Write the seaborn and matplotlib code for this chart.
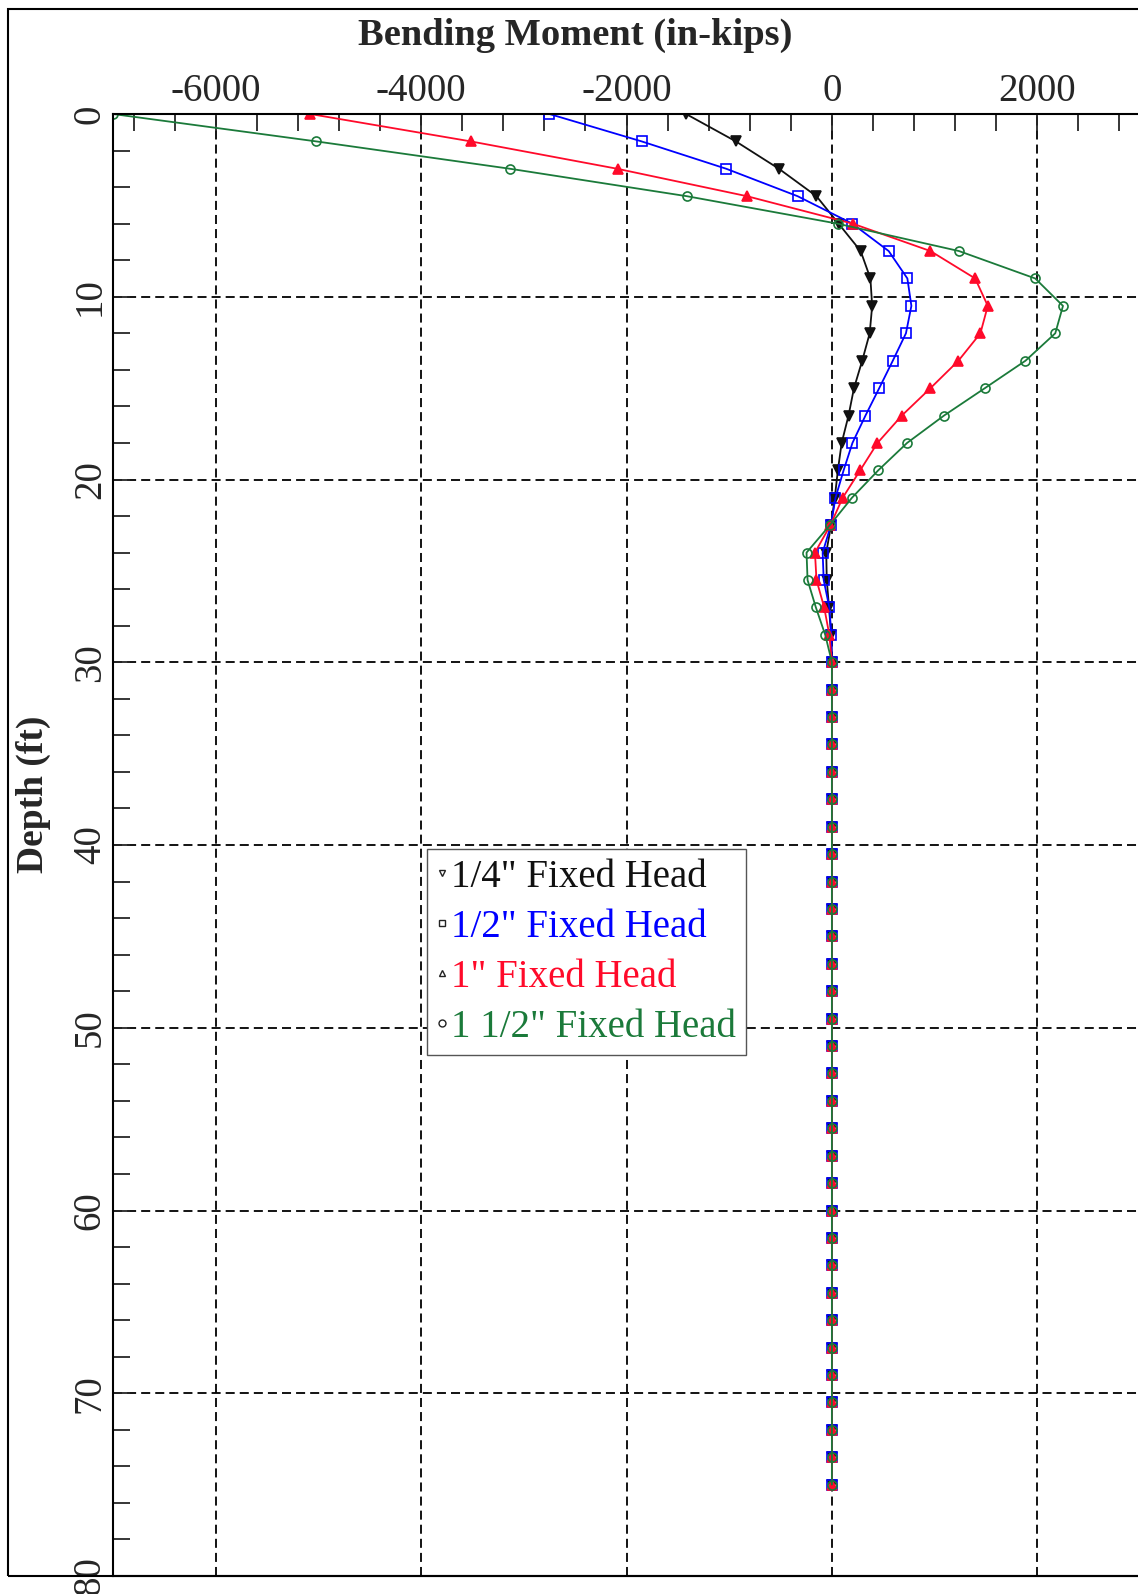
import matplotlib
matplotlib.use("Agg")
import matplotlib.pyplot as plt
import seaborn as sns
import pandas as pd
from matplotlib.lines import Line2D
from matplotlib.patches import Rectangle
from matplotlib.ticker import MultipleLocator

sns.set_style("white")
plt.rcParams['font.family'] = ['Liberation Serif', 'DejaVu Serif']
plt.rcParams['axes.unicode_minus'] = False

depth = [0, 1.5, 3, 4.5, 6, 7.5, 9, 10.5, 12, 13.5, 15, 16.5, 18, 19.5, 21,
         22.5, 24, 25.5, 27, 28.5, 30, 31.5, 33, 34.5, 36, 37.5, 39, 40.5,
         42, 43.5, 45, 46.5, 48, 49.5, 51, 52.5, 54, 55.5, 57, 58.5, 60,
         61.5, 63, 64.5, 66, 67.5, 69, 70.5, 72, 73.5, 75]

tail_zero = [0] * 30  # depths 31.5 .. 75 ft all read as zero moment

m_quarter = [-1420, -935, -515, -150, 65, 280, 375, 392, 368, 295, 215, 162,
             95, 58, 28, -8, -55, -50, -28, -8, 0] + tail_zero
m_half = [-2750, -1852, -1027, -333, 199, 553, 735, 774, 721, 593, 461, 327,
          200, 114, 35, -10, -90, -80, -25, -5, 0] + tail_zero
m_one = [-5080, -3515, -2087, -825, 203, 960, 1395, 1518, 1446, 1232, 960,
         681, 444, 275, 105, -15, -165, -150, -75, -25, 0] + tail_zero
m_one_half = [-7000, -5020, -3130, -1410, 55, 1238, 1980, 2250, 2175, 1885,
              1490, 1092, 732, 451, 195, -20, -247, -237, -156, -65, 0] + tail_zero

labels = ['1/4" Fixed Head', '1/2" Fixed Head', '1" Fixed Head', '1 1/2" Fixed Head']
colors = ['#111111', '#0000ff', '#ff0a2a', '#1b7a3a']
markers = ['v', 's', '^', 'o']
filled = [True, False, True, False]
series = [m_quarter, m_half, m_one, m_one_half]

W, H = 1138, 1594
fig = plt.figure(figsize=(W / 100, H / 100), dpi=100)
ax_left, ax_right, ax_top, ax_bot = 113, 1140, 114, 1576
ax = fig.add_axes([ax_left / W, (H - ax_bot) / H, (ax_right - ax_left) / W, (ax_bot - ax_top) / H])

for vals, lab, col, mk, fl in zip(series, labels, colors, markers, filled):
    df = pd.DataFrame({'moment': vals, 'depth': depth})
    sns.lineplot(data=df, x='moment', y='depth', sort=False, estimator=None,
                 ax=ax, color=col, linewidth=1.3, marker=mk, markersize=6.5,
                 markerfacecolor=(col if fl else 'none'), markeredgecolor=col,
                 markeredgewidth=1.2, legend=False)

ax.set_xlim(-7000, 3000)
ax.set_ylim(80, 0)
ax.xaxis.tick_top()
ax.xaxis.set_label_position('top')
ax.set_xticks([-6000, -4000, -2000, 0, 2000])
ax.set_yticks([0, 10, 20, 30, 40, 50, 60, 70, 80])
ax.xaxis.set_minor_locator(MultipleLocator(400))
ax.yaxis.set_minor_locator(MultipleLocator(2))
ax.tick_params(axis='x', which='both', direction='in', top=True, bottom=False,
               labeltop=True, labelbottom=False, length=12, width=1.3,
               labelsize=28, pad=3)
ax.tick_params(axis='y', which='both', direction='in', left=True, right=False,
               length=12, width=1.3, labelsize=28, pad=3)
for t in ax.get_yticklabels():
    t.set_rotation(90)
    t.set_va('center')

ax.grid(True, which='major', color='black', linestyle=(0, (5, 2.8)), linewidth=1.3)
for s in ['top', 'left', 'bottom', 'right']:
    ax.spines[s].set_color('black')
    ax.spines[s].set_linewidth(1.5)

ax.set_xlabel('Bending Moment (in-kips)', fontsize=27.7, fontweight='bold')
ax.xaxis.set_label_coords(0.45, 1.047)
ax.set_ylabel('Depth (ft)', fontsize=27, fontweight='bold')
ax.yaxis.set_label_coords(-0.060, 0.535)

handles = [Line2D([], [], linestyle='None', marker=mk, markersize=5,
                  markerfacecolor='white', markeredgecolor='#222222',
                  markeredgewidth=1.0) for mk in markers]
leg = ax.legend(handles, labels, loc='upper left', bbox_to_anchor=(0.306, 0.497),
                borderaxespad=0, fontsize=28, handlelength=0.25, handletextpad=0.12,
                borderpad=0.25, labelspacing=0.33, frameon=True, fancybox=False,
                framealpha=1, edgecolor='#555555')
leg.get_frame().set_linewidth(1.0)
for txt, col in zip(leg.get_texts(), colors):
    txt.set_color(col)

fig.patches.append(Rectangle((8 / W, (H - ax_bot) / H), 1.2, (ax_bot - 9) / H,
                             transform=fig.transFigure, fill=False,
                             edgecolor='black', linewidth=1.5, zorder=0))

fig.savefig('out.png', dpi=100)
